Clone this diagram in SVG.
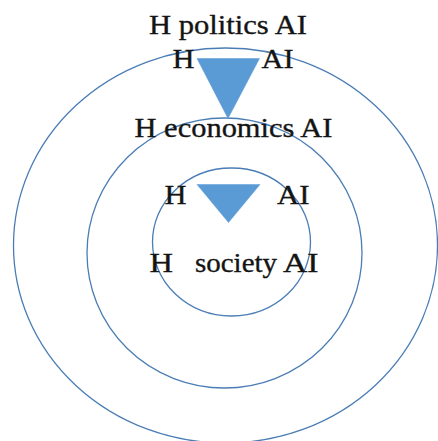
<svg xmlns="http://www.w3.org/2000/svg" width="438" height="441" viewBox="0 0 438 441">
  <style>
    .ring { fill: none; stroke: #4A7DB5; stroke-width: 1.3; }
    .tri { fill: #5B9BD5; stroke: #5B9BD5; stroke-width: 0.5; }
    text { font-family: "Liberation Serif", "Times New Roman", Times, serif; font-size: 27px; fill: #141414; stroke: #141414; stroke-width: 0.35; }
  </style>
  <rect width="438" height="441" fill="#fff"/>
  <g id="ring-politics">
    <ellipse class="ring" cx="225.5" cy="245.5" rx="212" ry="197.5"/>
  </g>
  <g id="ring-economics">
    <ellipse class="ring" cx="224.5" cy="253" rx="137.5" ry="135"/>
  </g>
  <g id="ring-society">
    <ellipse class="ring" cx="231.5" cy="242" rx="79" ry="74"/>
  </g>
  <g id="connectors">
    <polygon class="tri" points="197,58.5 259.5,58.5 228,118.5"/>
    <polygon class="tri" points="197,184.5 260,184.5 228.5,222.5"/>
  </g>
  <g id="label-politics">
    <text x="149" y="34" textLength="158" lengthAdjust="spacingAndGlyphs">H politics AI</text>
    <text x="172.5" y="68.3" textLength="22" lengthAdjust="spacingAndGlyphs">H</text>
    <text x="261.5" y="68.3" textLength="32" lengthAdjust="spacingAndGlyphs">AI</text>
  </g>
  <g id="label-economics">
    <text x="134.5" y="136.7" textLength="198" lengthAdjust="spacingAndGlyphs">H economics AI</text>
    <text x="164.5" y="204" textLength="22" lengthAdjust="spacingAndGlyphs">H</text>
    <text x="277" y="204" textLength="32.5" lengthAdjust="spacingAndGlyphs">AI</text>
  </g>
  <g id="label-society">
    <text x="149.5" y="271.7" textLength="23.5" lengthAdjust="spacingAndGlyphs">H</text>
    <text x="195" y="271.7" textLength="82" lengthAdjust="spacingAndGlyphs">society</text>
    <text x="283" y="271.7" textLength="35.5" lengthAdjust="spacingAndGlyphs">AI</text>
  </g>
</svg>
